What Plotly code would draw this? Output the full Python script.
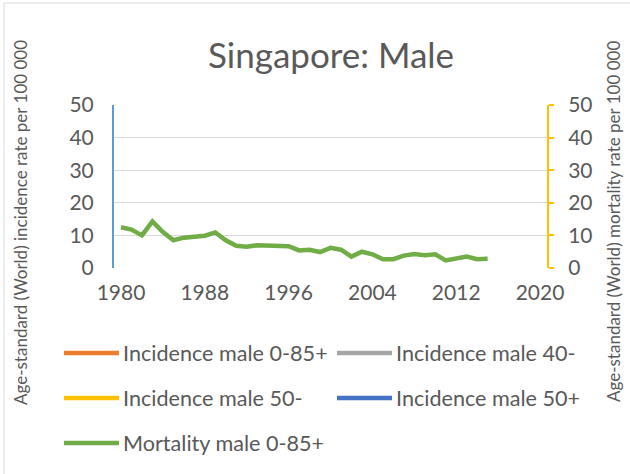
import plotly.graph_objects as go

years = list(range(1980, 2016))
mortality_male = [12.5, 11.8, 10.0, 14.3, 11.0, 8.5, 9.3, 9.7, 9.9, 10.9,
                  8.5, 6.8, 6.5, 7.0, 6.8, 6.9, 6.7, 5.4, 5.6, 4.9,
                  6.2, 5.6, 3.5, 5.0, 4.2, 2.7, 2.7, 3.8, 4.3, 3.9,
                  4.2, 2.3, 2.8, 3.5, 2.7, 2.8]
incidence_0_85 = []
incidence_40m = []
incidence_50m = []
incidence_50p = []

series_names = ["Incidence male 0-85+", "Incidence male 40-", "Incidence male 50-",
                "Incidence male 50+", "Mortality male 0-85+"]
series_colors = ["#ED7D31", "#A5A5A5", "#FFC000", "#4472C4", "#70AD47"]
x_ticks = [1980, 1988, 1996, 2004, 2012, 2020]
y_ticks = [0, 10, 20, 30, 40, 50]

W, H = 630, 474
L, R, T, B = 114, 547, 105, 268
FONT = "Lato"
TXT = "#595959"

def px(xpix):
    return (xpix - L) / (R - L)

def py(ypix):
    return (B - ypix) / (B - T)

fig = go.Figure()
inc_data = [incidence_0_85, incidence_40m, incidence_50m, incidence_50p]
for name, color, vals in zip(series_names[:4], series_colors[:4], inc_data):
    fig.add_trace(go.Scatter(x=years[:len(vals)], y=vals, mode="lines", name=name,
                             line=dict(color=color, width=4.5), showlegend=False))
fig.add_trace(go.Scatter(x=years, y=mortality_male, mode="lines", name=series_names[4],
                         line=dict(color=series_colors[4], width=4.5), yaxis="y2",
                         showlegend=False))

fig.update_layout(
    width=W, height=H, autosize=False,
    margin=dict(l=L, r=W - R, t=T, b=H - B, pad=0),
    paper_bgcolor="white", plot_bgcolor="white",
    font=dict(family=FONT, color=TXT),
    title=dict(text="Singapore: Male", x=331 / W, xref="container", xanchor="center",
               y=1 - 56 / H, yref="container", yanchor="middle",
               font=dict(size=35, color=TXT, family=FONT)),
    xaxis=dict(range=[1979.332, 2020.668], tickvals=x_ticks, showgrid=False,
               zeroline=False, showline=False, ticks="",
               tickfont=dict(size=21, color=TXT), ticklabelstandoff=10),
    yaxis=dict(range=[0, 50], tickvals=y_ticks, showgrid=True, gridcolor="#D9D9D9",
               gridwidth=1, zeroline=False, showline=True, linecolor="#5B9BD5",
               linewidth=2, ticks="", tickfont=dict(size=21, color=TXT),
               ticklabelstandoff=14),
    yaxis2=dict(range=[0, 50], tickvals=y_ticks, overlaying="y", side="right",
                showgrid=False, zeroline=False, showline=True, linecolor="#FFC000",
                linewidth=2, ticks="outside", ticklen=5, tickwidth=2, tickcolor="#FFC000",
                tickfont=dict(size=21, color=TXT), ticklabelstandoff=10),
    showlegend=False,
)

# axis titles
fig.add_annotation(text="Age-standard (World) incidence rate per 100 000",
                   xref="paper", yref="paper", x=px(20), y=py(223), textangle=-90,
                   showarrow=False, font=dict(size=17, color=TXT, family=FONT),
                   xanchor="center", yanchor="middle")
fig.add_annotation(text="Age-standard (World) mortality rate per 100 000",
                   xref="paper", yref="paper", x=px(613), y=py(222), textangle=-90,
                   showarrow=False, font=dict(size=17, color=TXT, family=FONT),
                   xanchor="center", yanchor="middle")

# legend (manual, 2 columns)
col_x = [64, 337]
row_y = [353, 398, 443]
for i, (name, color) in enumerate(zip(series_names, series_colors)):
    cx = col_x[i % 2]
    ry = row_y[i // 2]
    fig.add_shape(type="line", xref="paper", yref="paper",
                  x0=px(cx), x1=px(cx + 55), y0=py(ry), y1=py(ry),
                  line=dict(color=color, width=4.5))
    fig.add_annotation(text=name, xref="paper", yref="paper", x=px(cx + 57), y=py(ry),
                       xanchor="left", yanchor="middle", showarrow=False,
                       font=dict(size=21.6, color=TXT, family=FONT))

# chart border
fig.add_shape(type="rect", xref="paper", yref="paper",
              x0=px(4), x1=px(W + 10), y0=py(3), y1=py(H + 10),
              line=dict(color="#D9D9D9", width=1), fillcolor="rgba(0,0,0,0)", layer="below")

fig.write_html("out.html", config={"displayModeBar": False},
               post_script="document.body.style.margin='0';document.body.style.overflow='hidden';")
